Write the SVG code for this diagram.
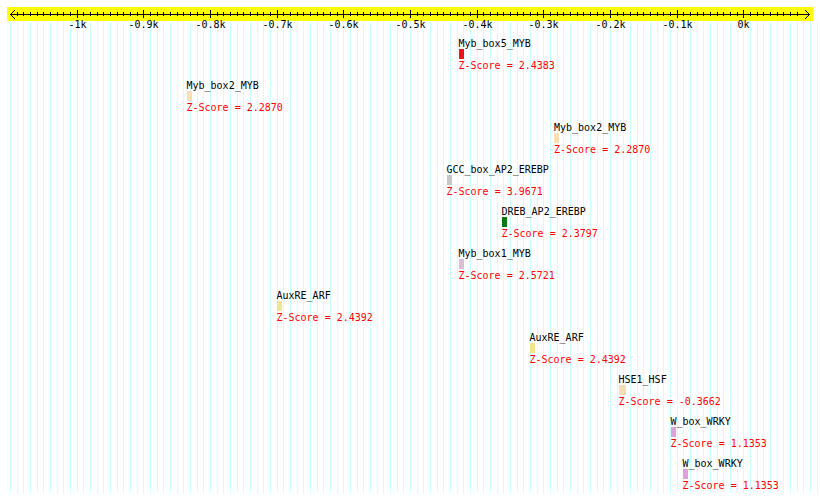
<svg xmlns="http://www.w3.org/2000/svg" width="820" height="503" viewBox="0 0 820 503">
<defs>
<pattern id="grid" patternUnits="userSpaceOnUse" x="10" y="0" width="20" height="503">
<rect x="0" y="0" width="1" height="503" fill="#ccffff"/>
<rect x="7" y="0" width="1" height="503" fill="#ccffff"/>
<rect x="13" y="0" width="1" height="503" fill="#ccffff"/>
</pattern>
<pattern id="ticks" patternUnits="userSpaceOnUse" x="10" y="0" width="20" height="503">
<rect x="0" y="0" width="1" height="503" fill="#000"/>
<rect x="7" y="0" width="1" height="503" fill="#000"/>
<rect x="13" y="0" width="1" height="503" fill="#000"/>
</pattern>
</defs>
<style>
text{font-family:"DejaVu Sans Mono","Liberation Mono",monospace;font-size:10px}
.ax{text-anchor:middle;fill:#000}
.lbl{fill:#000}
.z{fill:#ff0000}
</style>
<rect width="820" height="503" fill="#fff"/>
<rect x="10" y="21" width="808" height="472" fill="url(#grid)"/>
<g id="axis">
<rect x="7" y="7" width="806" height="14" fill="#ffff00"/>
<rect x="17" y="12" width="781" height="4" fill="url(#ticks)"/>
<path d="M10 14.5H810M77.5 10V18M143.5 10V18M210.5 10V18M277.5 10V18M343.5 10V18M410.5 10V18M477.5 10V18M543.5 10V18M610.5 10V18M677.5 10V18M743.5 10V18M15 10L10.5 14.5L15 19M805 10L809.5 14.5L805 19" stroke="#000" stroke-width="1" fill="none"/>
<text class="ax" x="77.5" y="28">-1k</text>
<text class="ax" x="143.5" y="28">-0.9k</text>
<text class="ax" x="210.5" y="28">-0.8k</text>
<text class="ax" x="277.5" y="28">-0.7k</text>
<text class="ax" x="343.5" y="28">-0.6k</text>
<text class="ax" x="410.5" y="28">-0.5k</text>
<text class="ax" x="477.5" y="28">-0.4k</text>
<text class="ax" x="543.5" y="28">-0.3k</text>
<text class="ax" x="610.5" y="28">-0.2k</text>
<text class="ax" x="677.5" y="28">-0.1k</text>
<text class="ax" x="743.5" y="28">0k</text>
</g>
<g id="connectors"/>
<g id="n1"><text class="lbl" x="458.5" y="47">Myb_box5_MYB</text><rect x="459" y="49" width="5" height="10" fill="#e8141c"/><text class="z" x="458.5" y="69">Z-Score = 2.4383</text></g>
<g id="n2"><text class="lbl" x="186.5" y="89">Myb_box2_MYB</text><rect x="187" y="91" width="5" height="10" fill="#fddfb3"/><text class="z" x="186.5" y="111">Z-Score = 2.2870</text></g>
<g id="n3"><text class="lbl" x="554" y="131">Myb_box2_MYB</text><rect x="554" y="133" width="5" height="10" fill="#fddfb3"/><text class="z" x="554" y="153">Z-Score = 2.2870</text></g>
<g id="n4"><text class="lbl" x="446.5" y="173">GCC_box_AP2_EREBP</text><rect x="447" y="175" width="5" height="10" fill="#c8c8c8"/><text class="z" x="446.5" y="195">Z-Score = 3.9671</text></g>
<g id="n5"><text class="lbl" x="501.5" y="215">DREB_AP2_EREBP</text><rect x="502" y="217" width="5" height="10" fill="#0b7a15"/><text class="z" x="501.5" y="237">Z-Score = 2.3797</text></g>
<g id="n6"><text class="lbl" x="458.5" y="257">Myb_box1_MYB</text><rect x="459" y="259" width="5" height="10" fill="#d8bfd8"/><text class="z" x="458.5" y="279">Z-Score = 2.5721</text></g>
<g id="n7"><text class="lbl" x="276.5" y="299">AuxRE_ARF</text><rect x="277" y="301" width="5" height="10" fill="#f0e68c"/><text class="z" x="276.5" y="321">Z-Score = 2.4392</text></g>
<g id="n8"><text class="lbl" x="529.5" y="341">AuxRE_ARF</text><rect x="530" y="343" width="5" height="10" fill="#f0e68c"/><text class="z" x="529.5" y="363">Z-Score = 2.4392</text></g>
<g id="n9"><text class="lbl" x="618.5" y="383">HSE1_HSF</text><rect x="619" y="385" width="7" height="10" fill="#f5deb3"/><text class="z" x="618.5" y="405">Z-Score = -0.3662</text></g>
<g id="n10"><text class="lbl" x="670.5" y="425">W_box_WRKY</text><rect x="671" y="427" width="5" height="10" fill="#dda0dd"/><text class="z" x="670.5" y="447">Z-Score = 1.1353</text></g>
<g id="n11"><text class="lbl" x="682.5" y="467">W_box_WRKY</text><rect x="683" y="469" width="5" height="10" fill="#dda0dd"/><text class="z" x="682.5" y="489">Z-Score = 1.1353</text></g>
</svg>
